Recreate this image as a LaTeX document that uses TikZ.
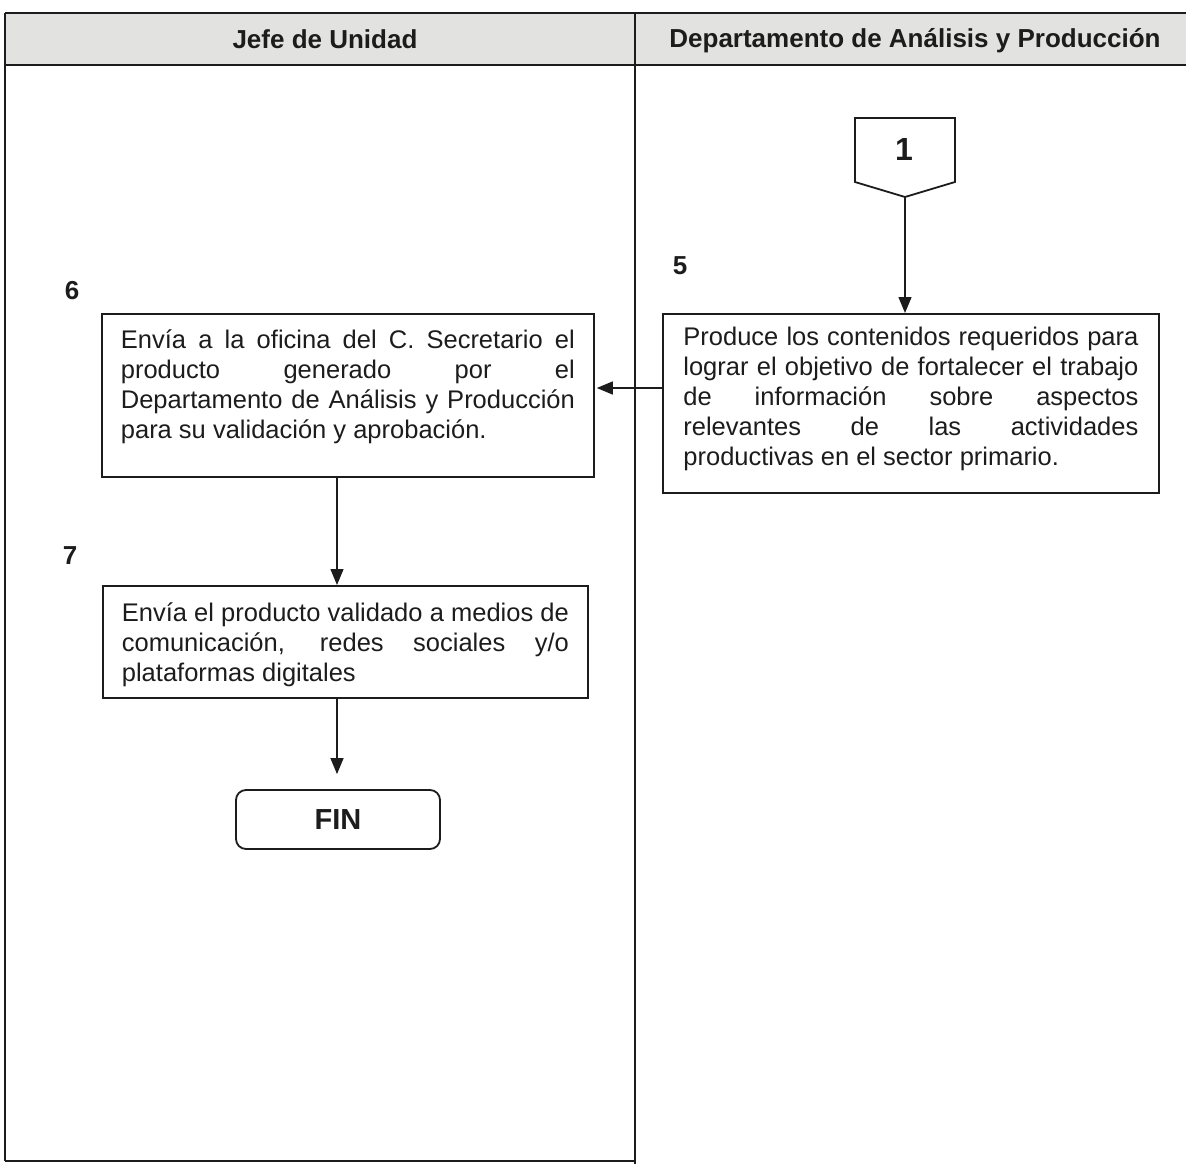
\documentclass[tikz,border=0pt]{standalone}
\usepackage{fontspec}
\setmainfont{Liberation Sans}
\usetikzlibrary{arrows.meta}
\definecolor{ink}{RGB}{28,28,28}
\definecolor{hdrgray}{RGB}{226,226,224}
\newcommand\bodyfnt{\fontsize{25.5}{30}\selectfont\hyphenpenalty=10000 \exhyphenpenalty=10000 \tolerance=10000 }
\begin{document}
\begin{tikzpicture}[x=1pt,y=-1pt,
  frame/.style={draw=ink, line width=1.7pt},
  stepbox/.style={draw=ink, line width=1.8pt, anchor=north west, align=justify, inner ysep=0pt, font=\bodyfnt, text=ink},
  hdr/.style={font=\fontsize{26}{30}\selectfont\bfseries, text=ink},
  lbl/.style={font=\fontsize{26}{30}\selectfont\bfseries, text=ink},
  arr/.style={draw=ink, line width=1.4pt, -{Triangle[length=16pt,width=13pt]}},
  endbox/.style={draw=ink, line width=1.8pt, rounded corners=10pt, minimum width=204pt, minimum height=59pt, font=\fontsize{29}{32}\selectfont\bfseries, text=ink}
]
\useasboundingbox (0,0) rectangle (1186,1164);

% header band and frame
\fill[hdrgray] (5,13) rectangle (1186,65);
\draw[frame] (5,13) -- (1186,13);
\draw[frame] (5,65) -- (1186,65);
\draw[frame] (5,13) -- (5,1161);
\draw[frame] (5,1161) -- (635,1161);
\draw[frame] (635,13) -- (635,1164);

\node[hdr] (h1) at (325,39) {Jefe de Unidad};
\node[hdr] (h2) at (915,41) {Departamento de Análisis y Producción};

% off-page connector 1
\draw[draw=ink, line width=1.8pt, line join=miter] (855,118) -- (955,118) -- (955,182) -- (905,197) -- (855,182) -- cycle;
\node[font=\fontsize{32}{36}\selectfont\bfseries, text=ink] (n1) at (904,149) {1};
\coordinate (c1tip) at (905,197);

% step labels
\node[lbl] (l5) at (680,266) {5};
\node[lbl] (l6) at (72,291) {6};
\node[lbl] (l7) at (70,556) {7};

% boxes
\node[stepbox, text width=455pt, inner xsep=20.5pt] (b5) at (662,313)
 {\rule{0pt}{32pt}Produce los contenidos requeridos para\linebreak lograr el objetivo de fortalecer el trabajo\linebreak de información sobre aspectos\linebreak relevantes de las actividades\linebreak productivas en el sector primario.\rule[-27pt]{0pt}{27pt}};

\node[stepbox, text width=454pt, inner xsep=19pt] (b6) at (101,313)
 {\rule{0pt}{35pt}Envía a la oficina del C. Secretario el\linebreak producto generado por el\linebreak Departamento de Análisis y Producción\linebreak para su validación y aprobación.\rule[-38pt]{0pt}{38pt}};

\node[stepbox, text width=447pt, inner xsep=19pt] (b7) at (102,585)
 {\rule{0pt}{36pt}Envía el producto validado a medios de\linebreak comunicación, redes sociales y/o\linebreak plataformas digitales\rule[-16pt]{0pt}{16pt}};

\node[endbox] (fin) at (338,819.5) {FIN};

% connectors
\draw[arr] (c1tip) -- (c1tip |- b5.north);
\coordinate (ym) at (0,388);
\coordinate (b6r) at ([xshift=2pt]b6.east);
\draw[arr] (b5.west |- ym) -- (b6r |- ym);
\coordinate (xv) at (337,0);
\draw[arr] (xv |- b6.south) -- (xv |- b7.north);
\coordinate (finin) at ([yshift=15pt]fin.north);
\draw[arr] (xv |- b7.south) -- (xv |- finin);
\end{tikzpicture}
\end{document}
